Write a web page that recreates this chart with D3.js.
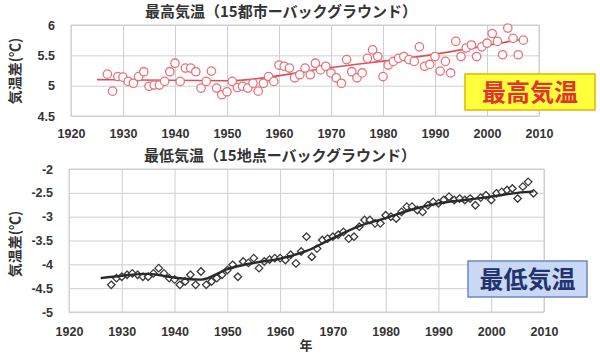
<!DOCTYPE html>
<html>
<head>
<meta charset="utf-8">
<script src="https://cdn.jsdelivr.net/npm/d3@7"></script>
<style>
  body { margin: 0; background: #fff; }
  svg { display: block; }
  .tick text { font-family: "Liberation Sans", Arial, sans-serif; font-weight: bold; fill: #333; }
  .jp { font-family: "Noto Sans CJK JP", sans-serif; font-weight: bold; }
</style>
</head>
<body>
<div id="chart"></div>
<script>
// tick labels
const decades = [1920, 1930, 1940, 1950, 1960, 1970, 1980, 1990, 2000, 2010];
const maxTicks = [4.5, 5, 5.5, 6];
const minTicks = [-5, -4.5, -4, -3.5, -3, -2.5, -2];

// 最高気温 (15都市 - バックグラウンド), 1927-2007
const maxStart = 1927;
const maxValues = [
  5.19, 4.91, 5.15, 5.14, 5.07, 5.04, 5.15, 5.23, 4.99, 5.01,
  5.01, 5.07, 5.23, 5.37, 5.07, 5.29, 5.29, 5.23, 4.96, 5.07,
  5.24, 4.96, 4.85, 4.90, 5.07, 4.97, 4.99, 4.96, 5.04, 4.91,
  5.04, 5.15, 5.07, 5.34, 5.32, 5.29, 5.13, 5.18, 5.29, 5.18,
  5.37, 5.26, 5.32, 5.21, 5.13, 5.04, 5.43, 5.23, 5.13, 5.21,
  5.45, 5.59, 5.48, 5.15, 5.34, 5.40, 5.45, 5.48, 5.43, 5.40,
  5.64, 5.32, 5.35, 5.48, 5.24, 5.40, 5.21, 5.73, 5.48, 5.62,
  5.67, 5.48, 5.64, 5.70, 5.86, 5.73, 5.51, 5.95, 5.78, 5.51,
  5.75
];
const maxTrend = [[1925, 5.10], [1950, 5.08], [1970, 5.30], [1990, 5.52], [2007, 5.77]];

// 最低気温 (15地点 - バックグラウンド), 1928-2008
const minStart = 1928;
const minValues = [
  -4.43, -4.29, -4.26, -4.22, -4.19, -4.22, -4.26, -4.26, -4.19, -4.08,
  -4.19, -4.29, -4.32, -4.43, -4.36, -4.22, -4.43, -4.15, -4.43, -4.36,
  -4.29, -4.22, -4.12, -4.01, -4.26, -3.94, -3.97, -3.87, -4.08, -3.94,
  -3.90, -3.87, -3.87, -3.91, -3.80, -3.98, -3.73, -3.42, -3.84, -3.67,
  -3.49, -3.46, -3.42, -3.38, -3.32, -3.46, -3.42, -3.21, -3.07, -3.07,
  -3.14, -3.14, -2.97, -3.00, -3.04, -2.90, -2.79, -2.79, -2.86, -2.90,
  -2.76, -2.69, -2.72, -2.65, -2.58, -2.65, -2.62, -2.65, -2.62, -2.76,
  -2.60, -2.55, -2.65, -2.51, -2.48, -2.44, -2.41, -2.62, -2.37, -2.27,
  -2.51
];
const minTrend = [
  [1926, -4.29], [1930, -4.24], [1935, -4.20], [1940, -4.28], [1945, -4.32],
  [1950, -4.10], [1955, -3.97], [1960, -3.88], [1965, -3.72], [1970, -3.45],
  [1975, -3.20], [1980, -3.03], [1985, -2.85], [1990, -2.72], [1995, -2.65],
  [2000, -2.58], [2005, -2.50], [2008, -2.47]
];

const W = 600, H = 354;
const svg = d3.select("#chart").append("svg").attr("width", W).attr("height", H);

function drawPanel(p) {
  const x = d3.scaleLinear().domain([1920, 2010]).range(p.xRange);
  const y = d3.scaleLinear().domain(p.yDomain).range(p.yRange);
  const g = svg.append("g");
  const pts = p.values.map((v, i) => ({year: p.start + i, value: v}));

  // grid
  g.append("g")
    .attr("transform", `translate(0,${p.yRange[0]})`)
    .call(d3.axisBottom(x).tickValues(decades).tickSize(p.yRange[1] - p.yRange[0]).tickFormat(""))
    .call(a => a.select(".domain").remove())
    .call(a => a.selectAll("line").attr("stroke", "#cfcfcf"));
  g.append("g")
    .attr("transform", `translate(${p.xRange[0]},0)`)
    .call(d3.axisLeft(y).tickValues(p.ticks).tickSize(p.xRange[0] - p.xRange[1]).tickFormat(""))
    .call(a => a.select(".domain").remove())
    .call(a => a.selectAll("line").attr("stroke", "#cfcfcf"));
  g.append("rect")
    .attr("x", p.xRange[0]).attr("y", p.yRange[1])
    .attr("width", p.xRange[1] - p.xRange[0]).attr("height", p.yRange[0] - p.yRange[1])
    .attr("fill", "none").attr("stroke", "#cfcfcf");

  // tick labels
  g.append("g")
    .attr("transform", `translate(0,${p.yRange[0]})`)
    .call(d3.axisBottom(x).tickValues(decades).tickSize(0).tickPadding(p.xPad).tickFormat(d3.format("d")))
    .call(a => a.select(".domain").remove())
    .call(a => a.selectAll("text").attr("font-size", 12.5));
  g.append("g")
    .attr("transform", `translate(${p.xRange[0]},0)`)
    .call(d3.axisLeft(y).tickValues(p.ticks).tickSize(0).tickPadding(p.yPad).tickFormat(d => d))
    .call(a => a.select(".domain").remove())
    .call(a => a.selectAll("text").attr("font-size", 12.5));

  const line = d3.line().x(d => x(d[0])).y(d => y(d[1])).curve(d3.curveMonotoneX);

  if (p.lineBelow) {
    g.append("path").attr("d", line(p.trend)).attr("fill", "none")
      .attr("stroke", p.lineColor).attr("stroke-width", p.lineWidth);
  }

  if (p.marker === "circle") {
    g.selectAll(".pt").data(pts).join("circle")
      .attr("class", "pt")
      .attr("cx", d => x(d.year)).attr("cy", d => y(d.value)).attr("r", 4.2)
      .attr("fill", "#fff").attr("stroke", p.markerColor).attr("stroke-width", 1.3);
  } else {
    const sym = d3.symbol().type(d3.symbolDiamond2).size(36);
    g.selectAll(".pt").data(pts).join("path")
      .attr("class", "pt")
      .attr("transform", d => `translate(${x(d.year)},${y(d.value)})`)
      .attr("d", sym)
      .attr("fill", "#fff").attr("stroke", p.markerColor).attr("stroke-width", 1.3);
  }

  if (!p.lineBelow) {
    g.append("path").attr("d", line(p.trend)).attr("fill", "none")
      .attr("stroke", p.lineColor).attr("stroke-width", p.lineWidth);
  }

  // title
  svg.append("text").attr("class", "jp")
    .attr("x", p.titleX).attr("y", p.titleY)
    .attr("text-anchor", "middle").attr("font-size", 15).attr("fill", "#333")
    .text(p.title);

  // y-axis title
  svg.append("text").attr("class", "jp")
    .attr("transform", `translate(${p.yTitleX},${p.yTitleY}) rotate(-90)`)
    .attr("text-anchor", "middle").attr("font-size", 14).attr("fill", "#333")
    .text("気温差(℃)");

  // label box
  const b = p.box;
  svg.append("rect")
    .attr("x", b.x).attr("y", b.y).attr("width", b.w).attr("height", b.h)
    .attr("fill", b.fill).attr("stroke", b.stroke).attr("stroke-width", 1.5);
  svg.append("text").attr("class", "jp")
    .attr("x", b.x + b.w / 2).attr("y", b.y + b.h / 2)
    .attr("dy", "0.36em").attr("text-anchor", "middle")
    .attr("font-size", 24).attr("fill", b.color)
    .text(b.text);
}

drawPanel({
  start: maxStart, values: maxValues, trend: maxTrend,
  xRange: [71, 539], yDomain: [4.5, 6], yRange: [116, 25], ticks: maxTicks,
  xPad: 13, yPad: 16,
  marker: "circle", markerColor: "#e8737c", lineColor: "#d9515d", lineWidth: 1.6, lineBelow: true,
  title: "最高気温（15都市ーバックグラウンド）", titleX: 281, titleY: 17,
  yTitleX: 20, yTitleY: 71,
  box: {x: 465, y: 74, w: 130, h: 36, fill: "#ffff3a", stroke: "#e3b400", color: "#e5322f", text: "最高気温"}
});

drawPanel({
  start: minStart, values: minValues, trend: minTrend,
  xRange: [69, 544], yDomain: [-5, -2], yRange: [312, 169], ticks: minTicks,
  xPad: 15, yPad: 16,
  marker: "diamond", markerColor: "#3a3a3a", lineColor: "#2a2a2a", lineWidth: 2.4, lineBelow: false,
  title: "最低気温（15地点ーバックグラウンド）", titleX: 280, titleY: 161,
  yTitleX: 20, yTitleY: 244,
  box: {x: 468, y: 261, w: 119, h: 36, fill: "#c9d8f5", stroke: "#6d86c4", color: "#23336e", text: "最低気温"}
});

// x-axis title
svg.append("text").attr("class", "jp")
  .attr("x", 306).attr("y", 350).attr("text-anchor", "middle")
  .attr("font-size", 13).attr("fill", "#333").text("年");
</script>
</body>
</html>
